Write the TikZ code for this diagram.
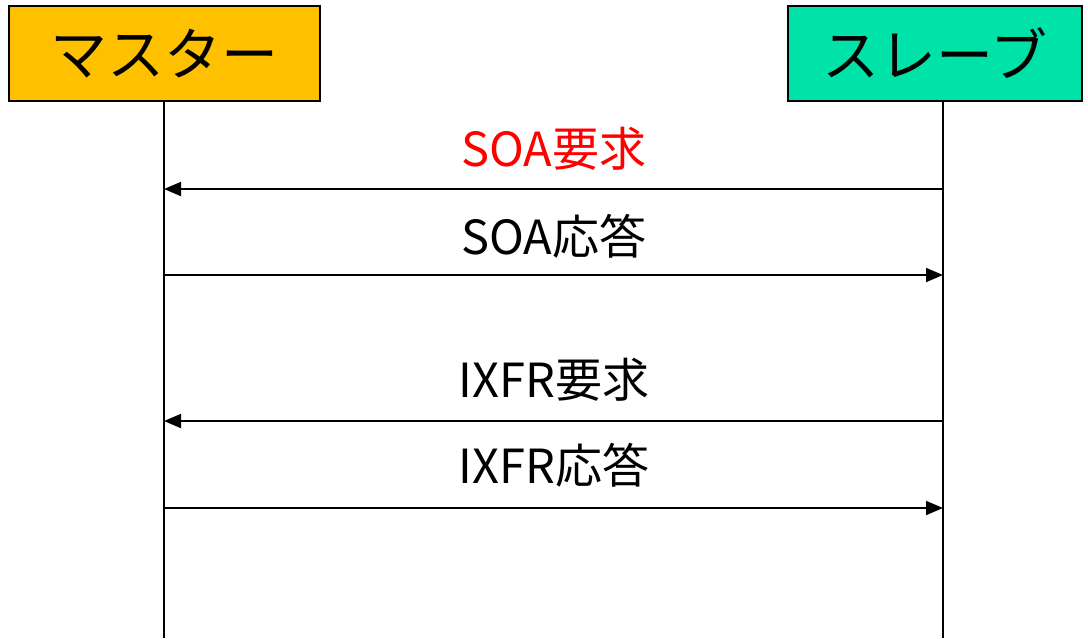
\documentclass[tikz,border=0pt]{standalone}
\usepackage{fontspec}
\setmainfont{Noto Sans CJK JP}
\usetikzlibrary{arrows.meta}
\definecolor{masterfill}{HTML}{FFC000}
\definecolor{slavefill}{HTML}{00E3A8}
\begin{document}
\begin{tikzpicture}[x=1pt,y=-1pt,
  actor/.style={draw=black,line width=1.2pt,minimum height=95pt,inner sep=0pt,font=\fontsize{57}{62}\selectfont},
  life/.style={line width=1.2pt},
  msg/.style={line width=1.8pt,-{Triangle[length=17pt,width=14pt]}},
  lbl/.style={font=\fontsize{47}{52}\selectfont}]
\useasboundingbox (0,0) rectangle (1088,638);
\node[actor,fill=masterfill,minimum width=311pt] (m) at (164.5,53.5) {マスター};
\node[actor,fill=slavefill,minimum width=294pt] (s) at (935,53.5) {スレーブ};
\coordinate (mb) at (164,638);
\coordinate (sb) at (943,638);
\draw[life] (m.south -| mb) -- (mb);
\draw[life] (s.south -| sb) -- (sb);
\coordinate (s1) at (943,189); \coordinate (m1) at (164,189);
\coordinate (m2) at (164,275); \coordinate (s2) at (943,275);
\coordinate (s3) at (943,421); \coordinate (m3) at (164,421);
\coordinate (m4) at (164,508); \coordinate (s4) at (943,508);
\draw[msg] (s1) -- (m1);
\draw[msg] (m2) -- (s2);
\draw[msg] (s3) -- (m3);
\draw[msg] (m4) -- (s4);
\node[lbl,text=red] (l1) at (554,149) {SOA要求};
\node[lbl] (l2) at (554,236) {SOA応答};
\node[lbl] (l3) at (554,380) {IXFR要求};
\node[lbl] (l4) at (554,465) {IXFR応答};
\end{tikzpicture}
\end{document}
